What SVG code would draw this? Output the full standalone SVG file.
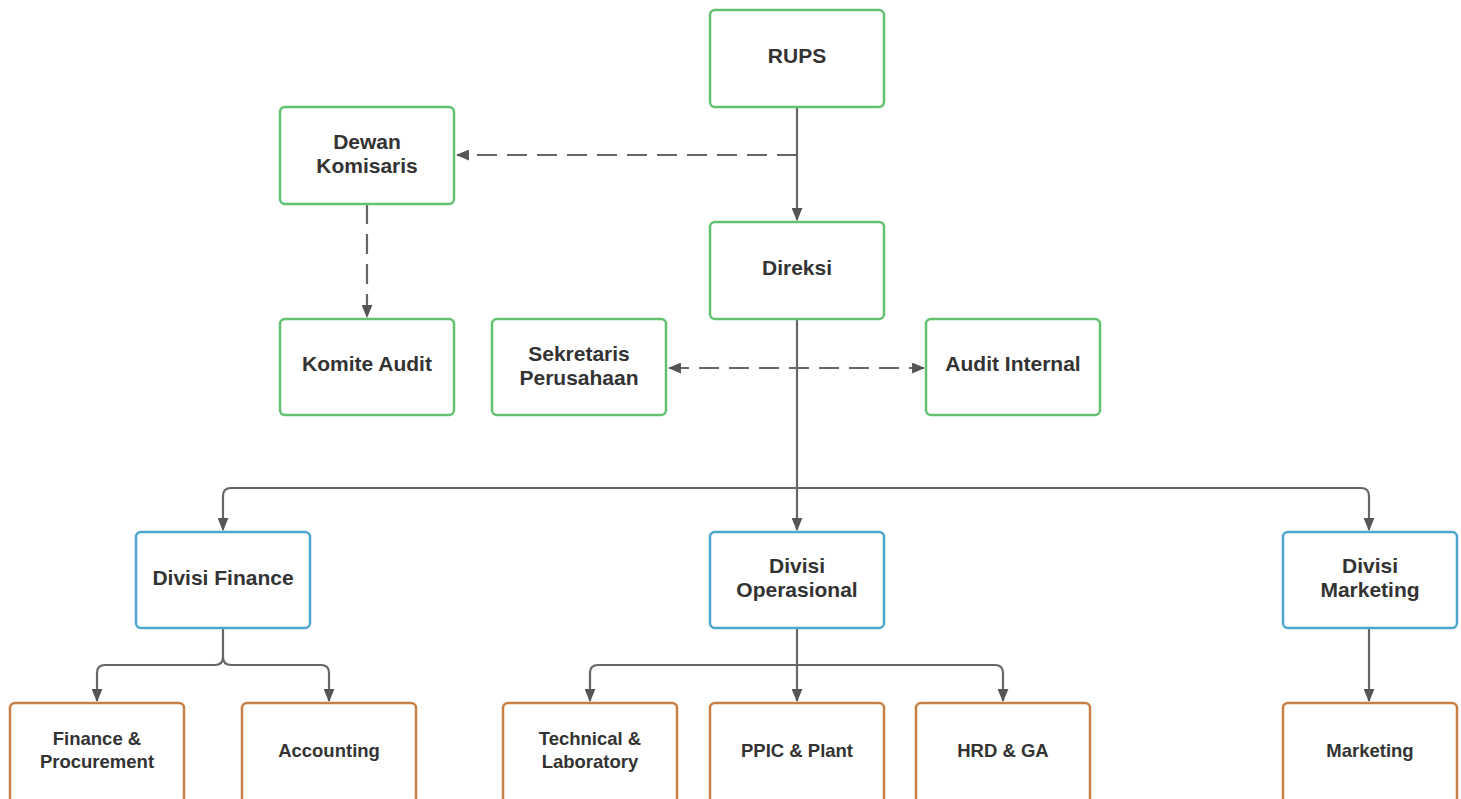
<svg xmlns="http://www.w3.org/2000/svg" width="1461" height="799" viewBox="0 0 1461 799">
<defs>
<style>
.box{fill:#ffffff;stroke-width:2.5}
.g{stroke:#62c170}
.b{stroke:#4ea6cf}
.o{stroke:#c87f45}
.t{font-family:"Liberation Sans",Arial,sans-serif;font-weight:bold;font-size:21px;fill:#333333;text-anchor:middle}
.s{font-size:18.5px}
.ln{fill:none;stroke:#666666;stroke-width:2.2}
.d{stroke-dasharray:20 10}
</style>
<marker id="ah" viewBox="0 0 12 10" refX="11" refY="5" markerWidth="13" markerHeight="11" markerUnits="userSpaceOnUse" orient="auto-start-reverse">
<path d="M0,0 L12,5 L0,10 z" fill="#555555"/>
</marker>
</defs>
<rect width="1461" height="799" fill="#ffffff"/>
<g id="connectors">
<path class="ln" d="M797,107 V220" marker-end="url(#ah)"/>
<path class="ln d" d="M797,155 H457" marker-end="url(#ah)"/>
<path class="ln d" d="M367,204 V317" marker-end="url(#ah)"/>
<path class="ln" d="M797,319 V530" marker-end="url(#ah)"/>
<path class="ln d" d="M669,368 H924" marker-start="url(#ah)" marker-end="url(#ah)"/>
<path class="ln" d="M223,530 V496 Q223,488 231,488 H1361 Q1369,488 1369,496 V530" marker-start="url(#ah)" marker-end="url(#ah)"/>
<path class="ln" d="M223,628 V657 Q223,665 215,665 H105 Q97,665 97,673 V701" marker-end="url(#ah)"/>
<path class="ln" d="M223,657 Q223,665 231,665 H321 Q329,665 329,673 V701" marker-end="url(#ah)"/>
<path class="ln" d="M797,628 V701" marker-end="url(#ah)"/>
<path class="ln" d="M797,665 H598 Q590,665 590,673 V701" marker-end="url(#ah)"/>
<path class="ln" d="M797,665 H995 Q1003,665 1003,673 V701" marker-end="url(#ah)"/>
<path class="ln" d="M1369,628 V701" marker-end="url(#ah)"/>
</g>
<g id="rups"><rect class="box g" x="710" y="10" width="174" height="97" rx="5"/><text class="t" x="797" y="63">RUPS</text></g>
<g id="dewan-komisaris"><rect class="box g" x="280" y="107" width="174" height="97" rx="5"/><text class="t" x="367" y="149">Dewan</text><text class="t" x="367" y="173">Komisaris</text></g>
<g id="direksi"><rect class="box g" x="710" y="222" width="174" height="97" rx="5"/><text class="t" x="797" y="275">Direksi</text></g>
<g id="komite-audit"><rect class="box g" x="280" y="319" width="174" height="96" rx="5"/><text class="t" x="367" y="371">Komite Audit</text></g>
<g id="sekretaris"><rect class="box g" x="492" y="319" width="174" height="96" rx="5"/><text class="t" x="579" y="361">Sekretaris</text><text class="t" x="579" y="385">Perusahaan</text></g>
<g id="audit-internal"><rect class="box g" x="926" y="319" width="174" height="96" rx="5"/><text class="t" x="1013" y="371">Audit Internal</text></g>
<g id="divisi-finance"><rect class="box b" x="136" y="532" width="174" height="96" rx="5"/><text class="t" x="223" y="585">Divisi Finance</text></g>
<g id="divisi-operasional"><rect class="box b" x="710" y="532" width="174" height="96" rx="5"/><text class="t" x="797" y="573">Divisi</text><text class="t" x="797" y="597">Operasional</text></g>
<g id="divisi-marketing"><rect class="box b" x="1283" y="532" width="174" height="96" rx="5"/><text class="t" x="1370" y="573">Divisi</text><text class="t" x="1370" y="597">Marketing</text></g>
<g id="finance-procurement"><rect class="box o" x="10" y="703" width="174" height="100" rx="5"/><text class="t s" x="97" y="745">Finance &amp;</text><text class="t s" x="97" y="768">Procurement</text></g>
<g id="accounting"><rect class="box o" x="242" y="703" width="174" height="100" rx="5"/><text class="t s" x="329" y="757">Accounting</text></g>
<g id="technical-laboratory"><rect class="box o" x="503" y="703" width="174" height="100" rx="5"/><text class="t s" x="590" y="745">Technical &amp;</text><text class="t s" x="590" y="768">Laboratory</text></g>
<g id="ppic-plant"><rect class="box o" x="710" y="703" width="174" height="100" rx="5"/><text class="t s" x="797" y="757">PPIC &amp; Plant</text></g>
<g id="hrd-ga"><rect class="box o" x="916" y="703" width="174" height="100" rx="5"/><text class="t s" x="1003" y="757">HRD &amp; GA</text></g>
<g id="marketing"><rect class="box o" x="1283" y="703" width="174" height="100" rx="5"/><text class="t s" x="1370" y="757">Marketing</text></g>
</svg>
